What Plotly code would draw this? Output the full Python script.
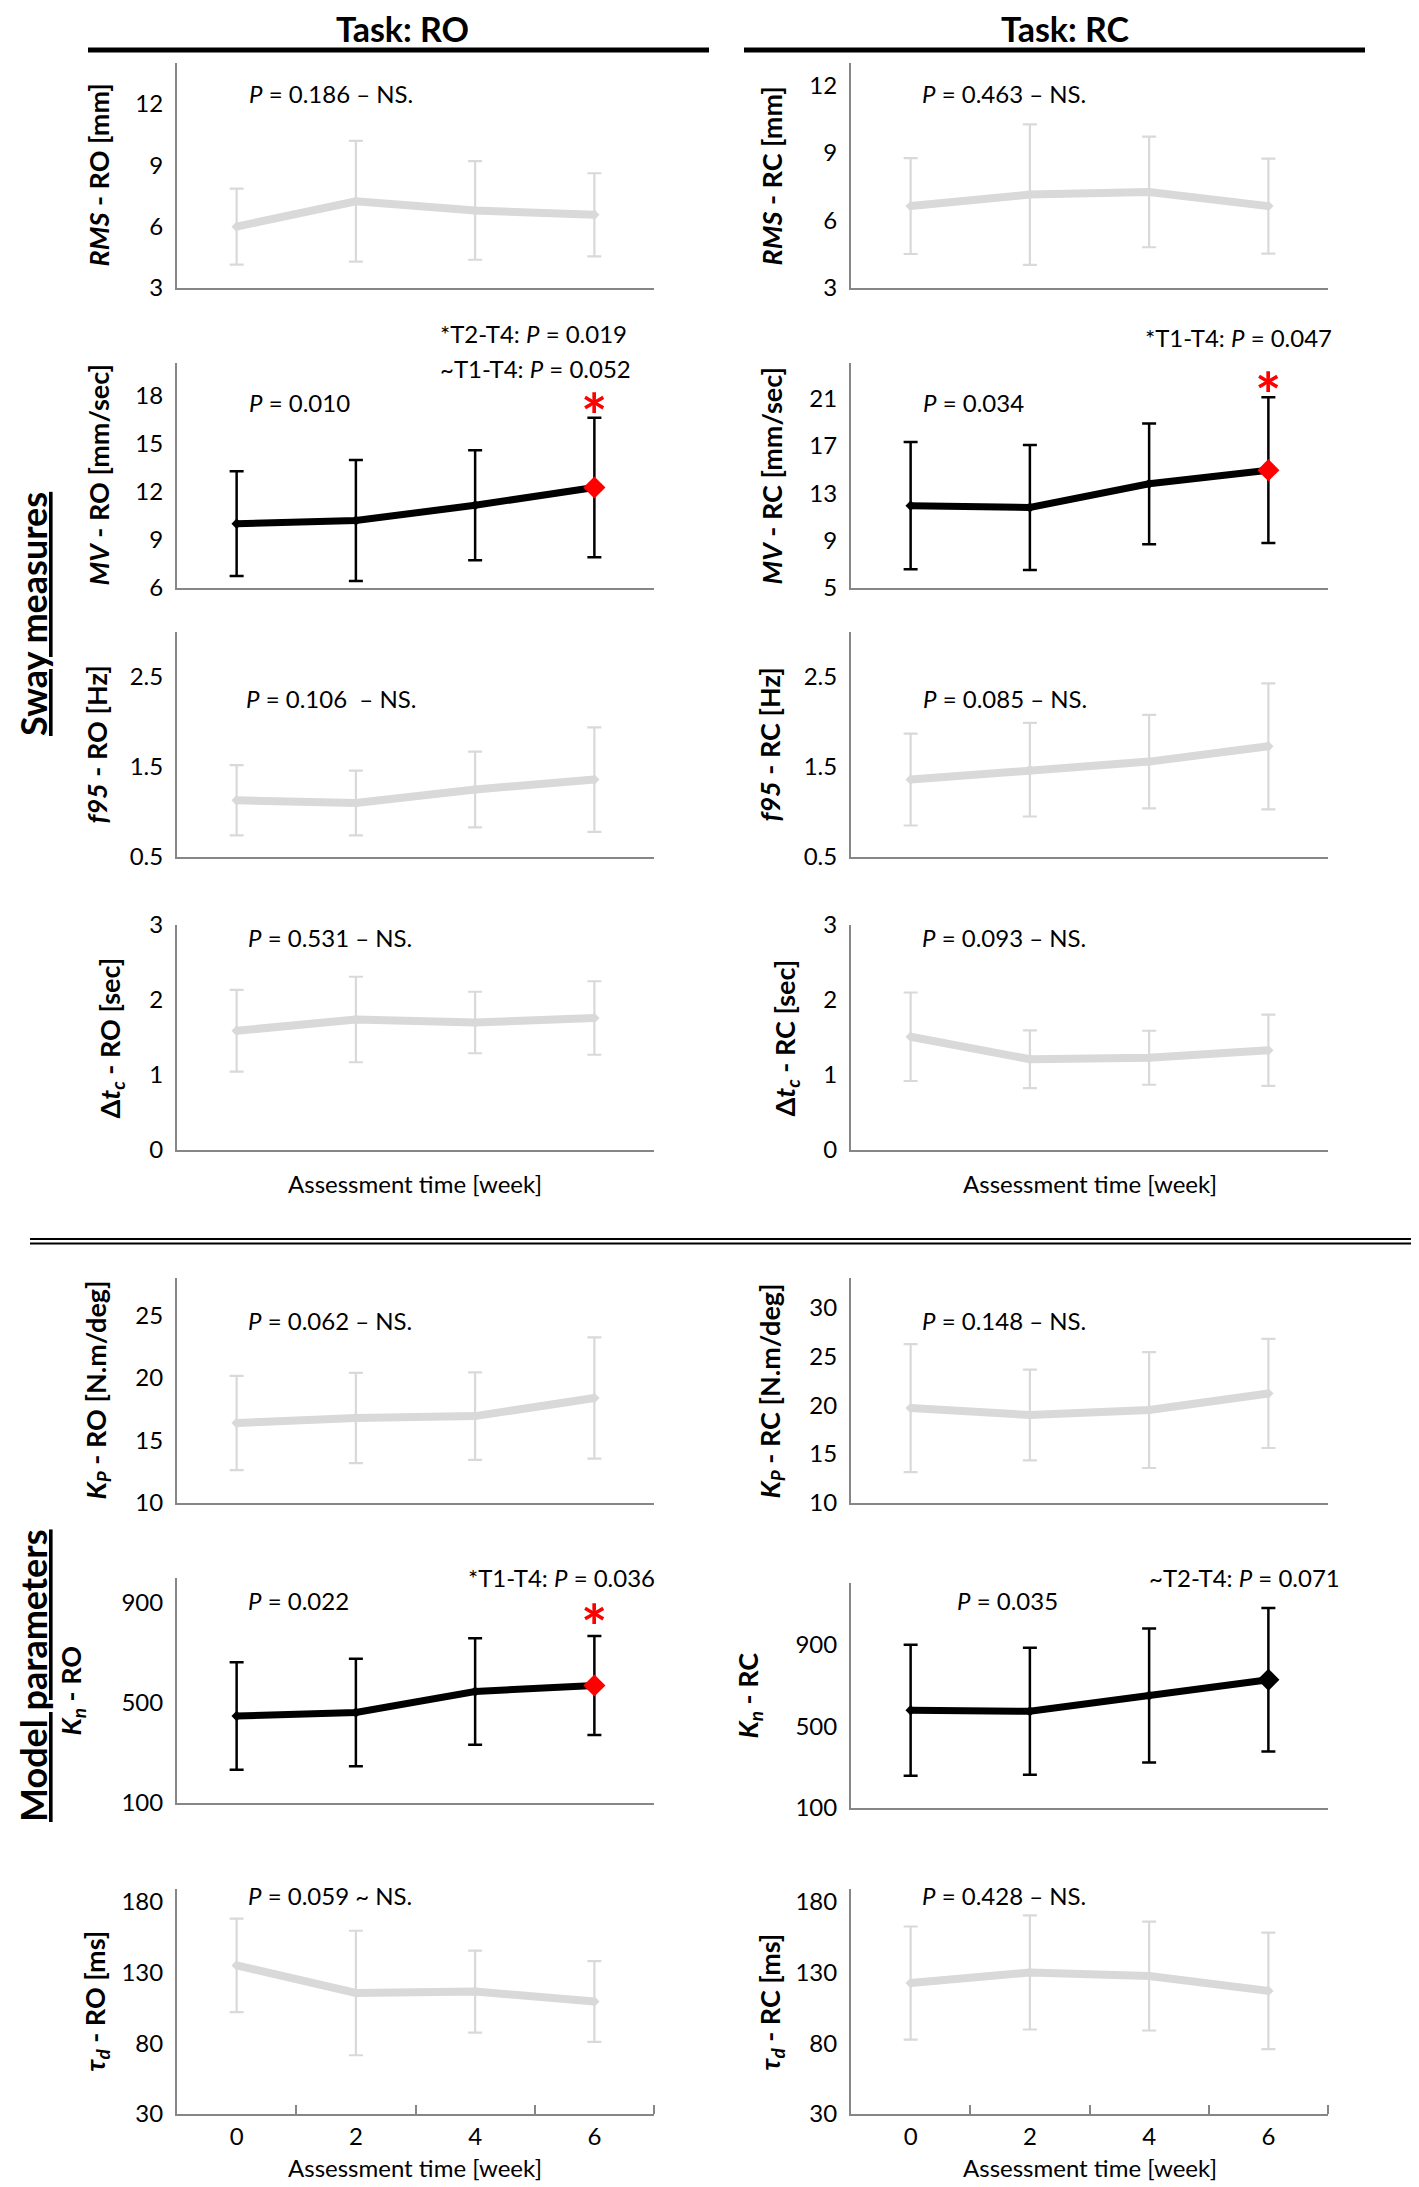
import plotly.graph_objects as go

W, H = 1419, 2187

# ---------------- data ----------------
weeks = [0, 2, 4, 6]
week_labels = ["0", "2", "4", "6"]

rms_ro_mean = [6.00, 7.24, 6.79, 6.58]
rms_ro_sd = [1.86, 2.95, 2.41, 2.03]
rms_rc_mean = [6.64, 7.15, 7.27, 6.64]
rms_rc_sd = [2.13, 3.12, 2.46, 2.11]

mv_ro_mean = [10.00, 10.20, 11.15, 12.25]
mv_ro_sd = [3.26, 3.77, 3.42, 4.34]
mv_rc_mean = [11.95, 11.80, 13.80, 14.95]
mv_rc_sd = [5.37, 5.27, 5.10, 6.15]

f95_ro_mean = [1.13, 1.10, 1.25, 1.36]
f95_ro_sd = [0.39, 0.36, 0.42, 0.58]
f95_rc_mean = [1.36, 1.47, 1.56, 1.73]
f95_rc_sd = [0.51, 0.52, 0.52, 0.70]

dtc_ro_mean = [1.59, 1.74, 1.70, 1.76]
dtc_ro_sd = [0.545, 0.57, 0.41, 0.49]
dtc_rc_mean = [1.51, 1.21, 1.23, 1.33]
dtc_rc_sd = [0.59, 0.385, 0.36, 0.475]

kp_ro_mean = [16.40, 16.80, 16.95, 18.40]
kp_ro_sd = [3.77, 3.61, 3.50, 4.85]
kp_rc_mean = [19.70, 19.00, 19.50, 21.20]
kp_rc_sd = [6.55, 4.64, 5.92, 5.58]

kn_ro_mean = [448, 462, 546, 570]
kn_ro_sd = [215, 215, 213, 198]
kn_rc_mean = [578, 573, 650, 727]
kn_rc_sd = [320, 310, 328, 351]

td_ro_mean = [135.0, 115.5, 116.5, 109.5]
td_ro_sd = [33.0, 44.0, 29.0, 28.5]
td_rc_mean = [122.5, 130.0, 127.5, 117.0]
td_rc_sd = [40.0, 40.3, 38.5, 41.2]

rms_ticks = [3, 6, 9, 12]
mv_ro_ticks = [6, 9, 12, 15, 18]
mv_rc_ticks = [5, 9, 13, 17, 21]
f95_ticks = [0.5, 1.5, 2.5]
dtc_ticks = [0, 1, 2, 3]
kp_ro_ticks = [10, 15, 20, 25]
kp_rc_ticks = [10, 15, 20, 25, 30]
kn_ticks = [100, 500, 900]
td_ticks = [30, 80, 130, 180]

# ---------------- styling / layout ----------------
FONT = "Lato, 'Open Sans', sans-serif"
AXIS_GRAY = "#868686"
LIGHT = "#D9D9D9"
PANEL_H = 225
COL_X = {"L": (177, 654), "R": (851, 1328)}
OFF = 8  # page body margin compensation


def px(x):
    return (x - OFF) / W


def py(y):
    return 1 - (y - OFF) / H


# (col, top_px, mean, sd, ticks, yrange, title, significant, highlight, star_gap, title_x, bottom)
panels = [
    ("L", 63, rms_ro_mean, rms_ro_sd, rms_ticks, [3, 14], "<b><i>RMS</i> - RO [mm]</b>", False, None, 0, 98, False),
    ("R", 63, rms_rc_mean, rms_rc_sd, rms_ticks, [3, 13], "<b><i>RMS</i> - RC [mm]</b>", False, None, 0, 771, False),
    ("L", 363, mv_ro_mean, mv_ro_sd, mv_ro_ticks, [6, 20], "<b><i>MV</i> - RO [mm/sec]</b>", True, "red", 17, 98, False),
    ("R", 363, mv_rc_mean, mv_rc_sd, mv_rc_ticks, [5, 24], "<b><i>MV</i> - RC [mm/sec]</b>", True, "red", 17, 771, False),
    ("L", 632, f95_ro_mean, f95_ro_sd, f95_ticks, [0.5, 3.0], "<b><i>f95</i> - RO [Hz]</b>", False, None, 0, 96, False),
    ("R", 632, f95_rc_mean, f95_rc_sd, f95_ticks, [0.5, 3.0], "<b><i>f95</i> - RC [Hz]</b>", False, None, 0, 769, False),
    ("L", 925, dtc_ro_mean, dtc_ro_sd, dtc_ticks, [0, 3], "<b>Δ<i>t<sub>c</sub></i> - RO [sec]</b>", False, None, 0, 111, False),
    ("R", 925, dtc_rc_mean, dtc_rc_sd, dtc_ticks, [0, 3], "<b>Δ<i>t<sub>c</sub></i> - RC [sec]</b>", False, None, 0, 786, False),
    ("L", 1278, kp_ro_mean, kp_ro_sd, kp_ro_ticks, [10, 28], "<b><i>K<sub>P</sub></i> - RO [N.m/deg]</b>", False, None, 0, 97, False),
    ("R", 1278, kp_rc_mean, kp_rc_sd, kp_rc_ticks, [10, 33], "<b><i>K<sub>P</sub></i> - RC [N.m/deg]</b>", False, None, 0, 771, False),
    ("L", 1578, kn_ro_mean, kn_ro_sd, kn_ticks, [100, 1000], "<b><i>K<sub>n</sub></i> - RO</b>", True, "red", 24, 72, False),
    ("R", 1583, kn_rc_mean, kn_rc_sd, kn_ticks, [100, 1200], "<b><i>K<sub>n</sub></i> - RC</b>", True, "black", None, 749, False),
    ("L", 1889, td_ro_mean, td_ro_sd, td_ticks, [30, 189], "<b><i>τ<sub>d</sub></i> - RO [ms]</b>", False, None, 0, 96, True),
    ("R", 1889, td_rc_mean, td_rc_sd, td_ticks, [30, 189], "<b><i>τ<sub>d</sub></i> - RC [ms]</b>", False, None, 0, 771, True),
]

fig = go.Figure()
annotations = []
layout_axes = {}

for i, (col, top, mean, sd, ticks, yr, title, sig, hl, star_gap, title_x, bottom) in enumerate(panels, start=1):
    xa = "x" if i == 1 else f"x{i}"
    ya = "y" if i == 1 else f"y{i}"
    x0, x1 = COL_X[col]
    ydom = [py(top + PANEL_H), py(top)]
    color = "black" if sig else LIGHT
    lw = 7 if sig else 8

    fig.add_trace(go.Scatter(
        x=weeks, y=mean, mode="lines+markers",
        line=dict(color=color, width=lw),
        marker=dict(symbol="diamond", size=8, color=color),
        error_y=dict(type="data", array=sd, visible=True, color=color,
                     thickness=2.5 if sig else 2.2, width=7),
        xaxis=xa, yaxis=ya, showlegend=False, cliponaxis=False, hoverinfo="skip",
    ))
    if hl is not None:
        fig.add_trace(go.Scatter(
            x=weeks[-1:], y=mean[-1:], mode="markers",
            marker=dict(symbol="diamond", size=17, color=hl),
            xaxis=xa, yaxis=ya, showlegend=False, cliponaxis=False, hoverinfo="skip",
        ))
    if hl == "red":
        annotations.append(dict(
            x=weeks[-1], y=mean[-1] + sd[-1], xref=xa, yref=ya,
            text="<b>*</b>", showarrow=False, font=dict(family=FONT, size=62, color="red"),
            xanchor="center", yanchor="middle", yshift=star_gap - 14,
        ))

    xaxis = dict(
        domain=[px(x0), px(x1)], range=[-1, 7], anchor=ya, automargin=False,
        showline=True, linecolor=AXIS_GRAY, linewidth=2,
        showgrid=False, zeroline=False, ticks="", fixedrange=True,
        showticklabels=bottom,
    )
    if bottom:
        xaxis.update(
            tickmode="array", tickvals=weeks, ticktext=week_labels,
            tickfont=dict(family=FONT, size=24, color="black"), ticklabelstandoff=0,
            minor=dict(tickmode="array", tickvals=[w + 1 for w in weeks], ticks="inside",
                       ticklen=9, tickwidth=2, tickcolor=AXIS_GRAY, showgrid=False),
        )
    yaxis = dict(
        domain=ydom, range=yr, anchor=xa, automargin=False,
        tickmode="array", tickvals=ticks,
        showline=True, linecolor=AXIS_GRAY, linewidth=2,
        showgrid=False, zeroline=False, ticks="", fixedrange=True,
        tickfont=dict(family=FONT, size=24, color="black"), ticklabelstandoff=7,
    )
    layout_axes["xaxis" if i == 1 else f"xaxis{i}"] = xaxis
    layout_axes["yaxis" if i == 1 else f"yaxis{i}"] = yaxis

    annotations.append(dict(
        x=px(title_x), y=py(top + PANEL_H / 2), xref="paper", yref="paper",
        text=title, textangle=-90, showarrow=False,
        font=dict(family=FONT, size=27, color="black"),
        xanchor="center", yanchor="middle",
    ))

# p-value and comparison texts: (text, left_x_px, center_y_px)
p_texts = [
    ("<i>P</i> = 0.186 – NS.", 247, 93),
    ("<i>P</i> = 0.463 – NS.", 920, 93),
    ("<i>P</i> = 0.010", 247, 402),
    ("*T2-T4: <i>P</i> = 0.019", 438, 333),
    ("~T1-T4: <i>P</i> = 0.052", 438, 368),
    ("<i>P</i> = 0.034", 921, 402),
    ("*T1-T4: <i>P</i> = 0.047", 1143, 337),
    ("<i>P</i> = 0.106 \u00a0– NS.", 244, 699),
    ("<i>P</i> = 0.085 – NS.", 921, 699),
    ("<i>P</i> = 0.531 – NS.", 246, 937),
    ("<i>P</i> = 0.093 – NS.", 920, 937),
    ("<i>P</i> = 0.062 – NS.", 246, 1320),
    ("<i>P</i> = 0.148 – NS.", 920, 1320),
    ("<i>P</i> = 0.022", 246, 1600),
    ("*T1-T4: <i>P</i> = 0.036", 466, 1577),
    ("<i>P</i> = 0.035", 955, 1600),
    ("~T2-T4: <i>P</i> = 0.071", 1147, 1577),
    ("<i>P</i> = 0.059 ~ NS.", 246, 1895),
    ("<i>P</i> = 0.428 – NS.", 920, 1895),
]
for t, x, y in p_texts:
    annotations.append(dict(x=px(x), y=py(y), xref="paper", yref="paper", text=t,
                            showarrow=False, xanchor="left", yanchor="middle",
                            font=dict(family=FONT, size=24, color="black")))

# x-axis titles
for cx in (415, 1090):
    for cy in (1183, 2167):
        annotations.append(dict(x=px(cx), y=py(cy), xref="paper", yref="paper",
                                text="Assessment time [week]", showarrow=False,
                                xanchor="center", yanchor="middle",
                                font=dict(family=FONT, size=24, color="black")))

# column headers
for t, cx in (("<b>Task: RO</b>", 402), ("<b>Task: RC</b>", 1065)):
    annotations.append(dict(x=px(cx), y=py(28), xref="paper", yref="paper", text=t,
                            showarrow=False, xanchor="center", yanchor="middle",
                            font=dict(family=FONT, size=34, color="black")))

# section labels
for t, cy in (("<b><u>Sway measures</u></b>", 614), ("<b><u>Model parameters</u></b>", 1676)):
    annotations.append(dict(x=px(33), y=py(cy), xref="paper", yref="paper", text=t,
                            textangle=-90, showarrow=False, xanchor="center", yanchor="middle",
                            font=dict(family=FONT, size=36, color="black")))

shapes = [
    dict(type="line", xref="paper", yref="paper", x0=px(88), x1=px(709), y0=py(50), y1=py(50),
         line=dict(color="black", width=5)),
    dict(type="line", xref="paper", yref="paper", x0=px(744), x1=px(1365), y0=py(50), y1=py(50),
         line=dict(color="black", width=5)),
    dict(type="line", xref="paper", yref="paper", x0=px(30), x1=1, y0=py(1239), y1=py(1239),
         line=dict(color="black", width=2)),
    dict(type="line", xref="paper", yref="paper", x0=px(30), x1=1, y0=py(1243.5), y1=py(1243.5),
         line=dict(color="black", width=2)),
]

fig.update_layout(
    width=W, height=H, margin=dict(l=0, r=0, t=0, b=0, autoexpand=False),
    paper_bgcolor="white", plot_bgcolor="white",
    font=dict(family=FONT, size=24, color="black"),
    annotations=annotations, shapes=shapes, showlegend=False,
    **layout_axes,
)

fig.write_html("out.html")
